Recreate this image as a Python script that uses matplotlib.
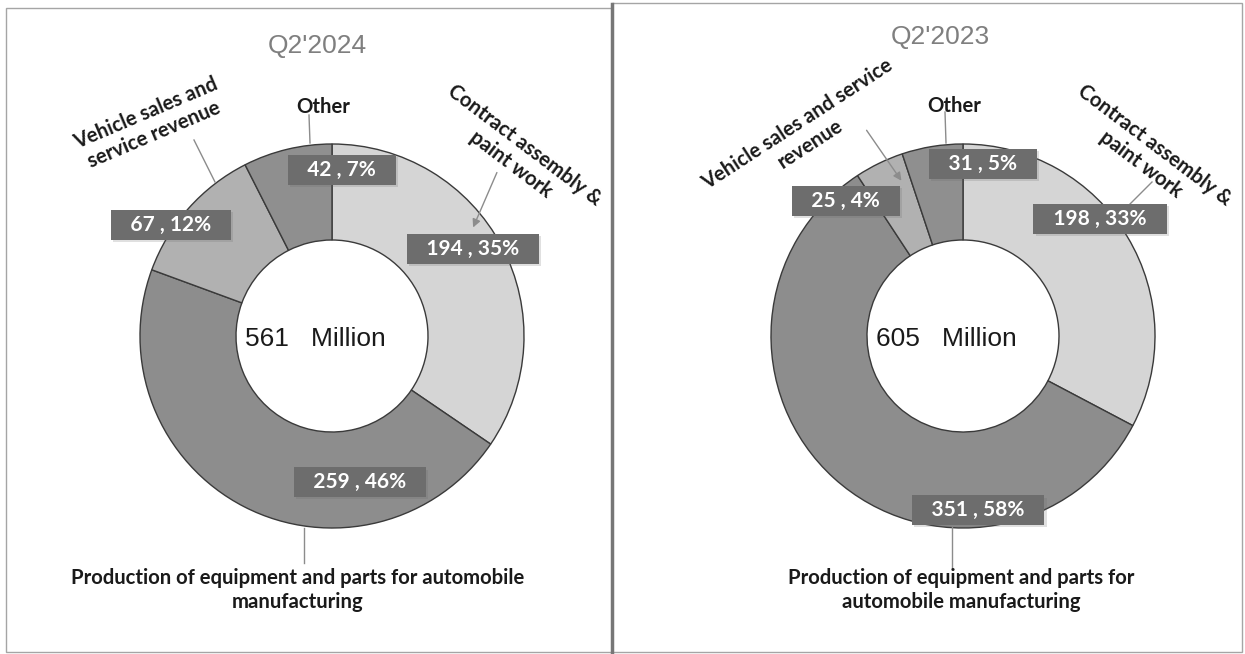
import matplotlib.pyplot as plt
import matplotlib.patheffects as pe
from matplotlib.patches import Rectangle

# data (million)
values_2024 = [194, 259, 67, 42]
pcts_2024 = [35, 46, 12, 7]
values_2023 = [198, 351, 25, 31]
pcts_2023 = [33, 58, 4, 5]
totals = ['561', '605']
titles = ["Q2'2024", "Q2'2023"]

labels_2024 = ['Contract assembly &\npaint work',
               'Production of equipment and parts for automobile\nmanufacturing',
               'Vehicle sales and\nservice revenue',
               'Other']
labels_2023 = ['Contract assembly &\npaint work',
               'Production of equipment and parts for\nautomobile manufacturing',
               'Vehicle sales and service\nrevenue',
               'Other']

colors = ['#d5d5d5', '#8d8d8d', '#b1b1b1', '#8f8f8f']

W, H = 1245, 654
fig = plt.figure(figsize=(W / 100, H / 100), dpi=100)
ax = fig.add_axes([0, 0, 1, 1])


def py(y):
    # picture rows -> axis units (y up)
    return H - y


# layout per panel: centre, title pos, value boxes, label pos/rotation, leaders
panels = [
    dict(vals=values_2024, pcts=pcts_2024, labels=labels_2024, total=totals[0],
         title=titles[0], cx=332, cy=336, title_xy=(317, 46),
         boxes=[(473, 249), (360, 482), (171, 225), (342, 170)],
         lab_xy=[(518, 155), (298, 590), (150, 124), (323, 107)],
         lab_rot=[-37, 0, 23, 0],
         lines=[None, ((304, 528), (304, 563)), ((194, 140), (215, 182)),
                ((309, 115), (310, 143))],
         arrows=[((498, 170), (472, 230))]),
    dict(vals=values_2023, pcts=pcts_2023, labels=labels_2023, total=totals[1],
         title=titles[1], cx=963, cy=336, title_xy=(940, 37),
         boxes=[(1100, 219), (978, 510), (846, 201), (983, 164)],
         lab_xy=[(1148, 155), (961, 590), (804, 134), (954, 106)],
         lab_rot=[-37, 0, 33, 0],
         lines=[((1152, 182), (1126, 208)), ((952, 527), (952, 568)), None,
                ((945, 112), (946, 143))],
         arrows=[((865, 128), (903, 183))]),
]

R = 192
for p in panels:
    ax.pie(p['vals'], colors=colors, startangle=90, counterclock=False,
           radius=R, center=(p['cx'], py(p['cy'])),
           wedgeprops=dict(width=R * 0.5, edgecolor='#3a3a3a', linewidth=1))

    ax.text(p['title_xy'][0], py(p['title_xy'][1]), p['title'], ha='center', va='center',
            fontsize=19, color='#7f7f7f', family='Liberation Sans')
    ax.text(p['cx'] - 17, py(p['cy'] + 3), p['total'] + '   Million', ha='center', va='center',
            fontsize=19, color='#1a1a1a', family='Liberation Sans')

    for (bx, by), v, pc in zip(p['boxes'], p['vals'], p['pcts']):
        t = ax.text(bx, py(by), f'   {v} , {pc}%   ', ha='center', va='center',
                    fontsize=15, fontweight='bold', color='white', family='Lato',
                    bbox=dict(boxstyle='square,pad=0.22', fc='#6d6d6d', ec='none'))
        t.get_bbox_patch().set_path_effects(
            [pe.SimplePatchShadow(offset=(1.5, -1.5), shadow_rgbFace='#666666', alpha=0.2),
             pe.Normal()])

    for (lx, ly), lab, rot in zip(p['lab_xy'], p['labels'], p['lab_rot']):
        ax.text(lx, py(ly), lab, ha='center', va='center', rotation=rot,
                rotation_mode='anchor', fontsize=14.6, fontweight='bold', color='#1a1a1a',
                family='Lato', linespacing=1.2)

    for ln in p['lines']:
        if ln is None:
            continue
        (x0, y0), (x1, y1) = ln
        ax.plot([x0, x1], [py(y0), py(y1)], color='#8c8c8c', lw=1)
    for (x0, y0), (x1, y1) in p['arrows']:
        ax.annotate('', xy=(x1, py(y1)), xytext=(x0, py(y0)),
                    arrowprops=dict(arrowstyle='-|>', color='#8c8c8c', lw=1,
                                    mutation_scale=12))

# panel frames
ax.add_patch(Rectangle((6, py(652)), 606, 644, fill=False, ec='#a5a5a5', lw=1))
ax.add_patch(Rectangle((612, py(652)), 630, 649, fill=False, ec='#a5a5a5', lw=1))
ax.plot([612, 612], [py(4), py(654)], color='#777777', lw=2.5)

ax.set_xlim(0, W)
ax.set_ylim(0, H)
ax.set_aspect('auto')
ax.axis('off')

fig.savefig('out.png', dpi=100)
